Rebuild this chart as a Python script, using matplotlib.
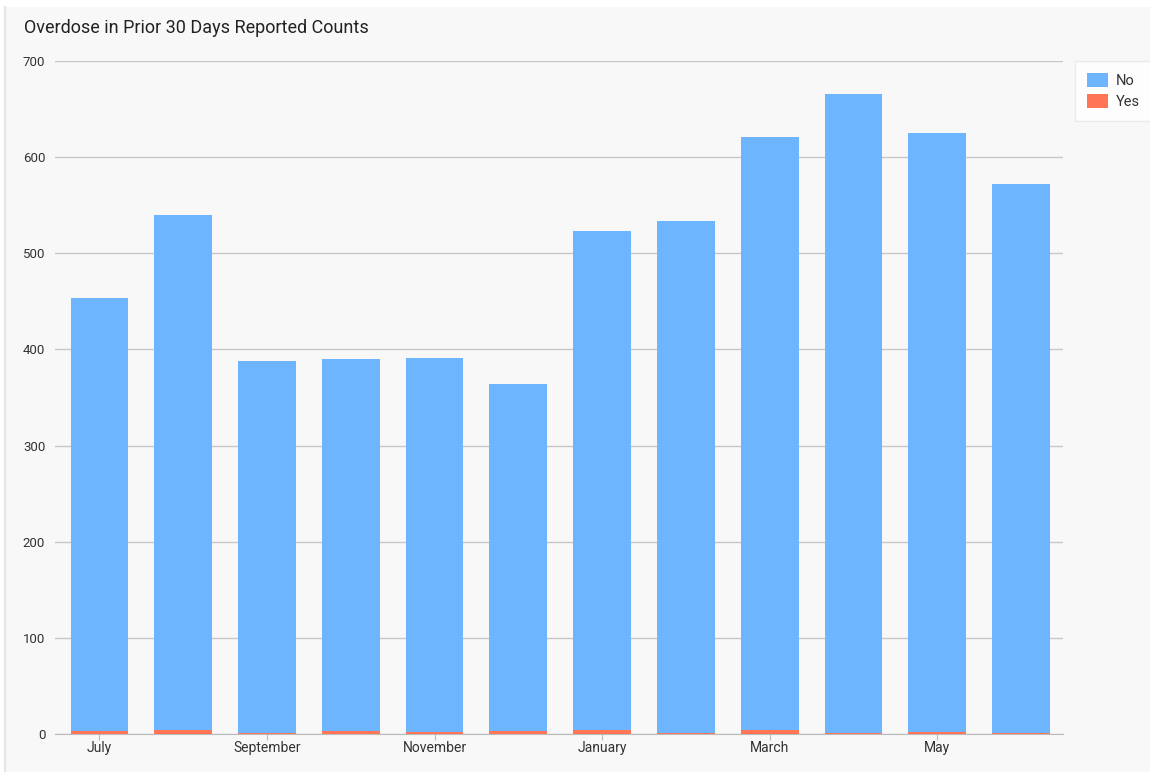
import matplotlib
matplotlib.use("Agg")
import matplotlib.pyplot as plt
from matplotlib.patches import Patch, Rectangle
from matplotlib.lines import Line2D

months = ["July", "August", "September", "October", "November", "December",
          "January", "February", "March", "April", "May", "June"]
totals = [453, 540, 388, 390, 391, 364, 523, 534, 621, 666, 625, 572]
yes_vals = [3, 4, 1, 3, 2, 3, 4, 1, 4, 1, 2, 1]
no_vals = [t - y for t, y in zip(totals, yes_vals)]
yticks = [0, 100, 200, 300, 400, 500, 600, 700]

blue = "#6db5ff"
red = "#ff7556"
bg = "#f8f8f8"
plt.rcParams['font.family'] = ['Roboto', 'DejaVu Sans']

W, H = 1150, 772
fig = plt.figure(figsize=(11.5, 7.72), dpi=100, facecolor="white")
# panel background with thin left border
fig.add_artist(Rectangle((6/W, 0), 1 - 6/W, 1 - 7/H, transform=fig.transFigure,
                         facecolor=bg, edgecolor="none", zorder=-10))
fig.add_artist(Line2D([5/W, 5/W], [0, 1 - 7/H], transform=fig.transFigure,
                      color="#e4e6ea", linewidth=1.5, zorder=-9))

ax = fig.add_axes([55/W, 38/H, (1063-55)/W, (734-61)/H])
ax.set_facecolor(bg)

x = list(range(len(months)))
ax.bar(x, yes_vals, width=0.69, color=red, zorder=3)
ax.bar(x, no_vals, width=0.69, bottom=yes_vals, color=blue, zorder=3)

ax.set_xlim(-0.53, 11.5)
ax.set_ylim(0, 700)
ax.set_yticks(yticks)
ax.yaxis.grid(True, color="#c8c8c8", linewidth=1)
ax.set_axisbelow(True)
ax.tick_params(axis='y', length=0, pad=7, labelsize=9.5, labelcolor="#333333")
ax.set_xticks(x[::2])
ax.set_xticklabels(months[::2])
ax.tick_params(axis='x', length=4, color="#bbbbbb", labelsize=10, labelcolor="#333333", pad=1)
for s in ["top", "right", "left"]:
    ax.spines[s].set_visible(False)
ax.spines["bottom"].set_color("#bbbbbb")

fig.text(24/W, 1 - 28/H, "Overdose in Prior 30 Days Reported Counts",
         fontsize=13, color="#222222", va="center", ha="left")

handles = [Patch(facecolor=blue, label="No"), Patch(facecolor=red, label="Yes")]
leg = fig.legend(handles=handles, loc="upper left", bbox_to_anchor=(1075/W, 1 - 61/H),
                 borderaxespad=0, frameon=True, fontsize=10.5, handlelength=1.45,
                 handleheight=1.1, borderpad=0.8, labelspacing=0.45, handletextpad=0.55,
                 fancybox=False)
leg.get_frame().set_facecolor("white")
leg.get_frame().set_edgecolor("#e6e6e6")
for t in leg.get_texts():
    t.set_color("#333333")

fig.savefig("out.png", dpi=100, facecolor="white")
